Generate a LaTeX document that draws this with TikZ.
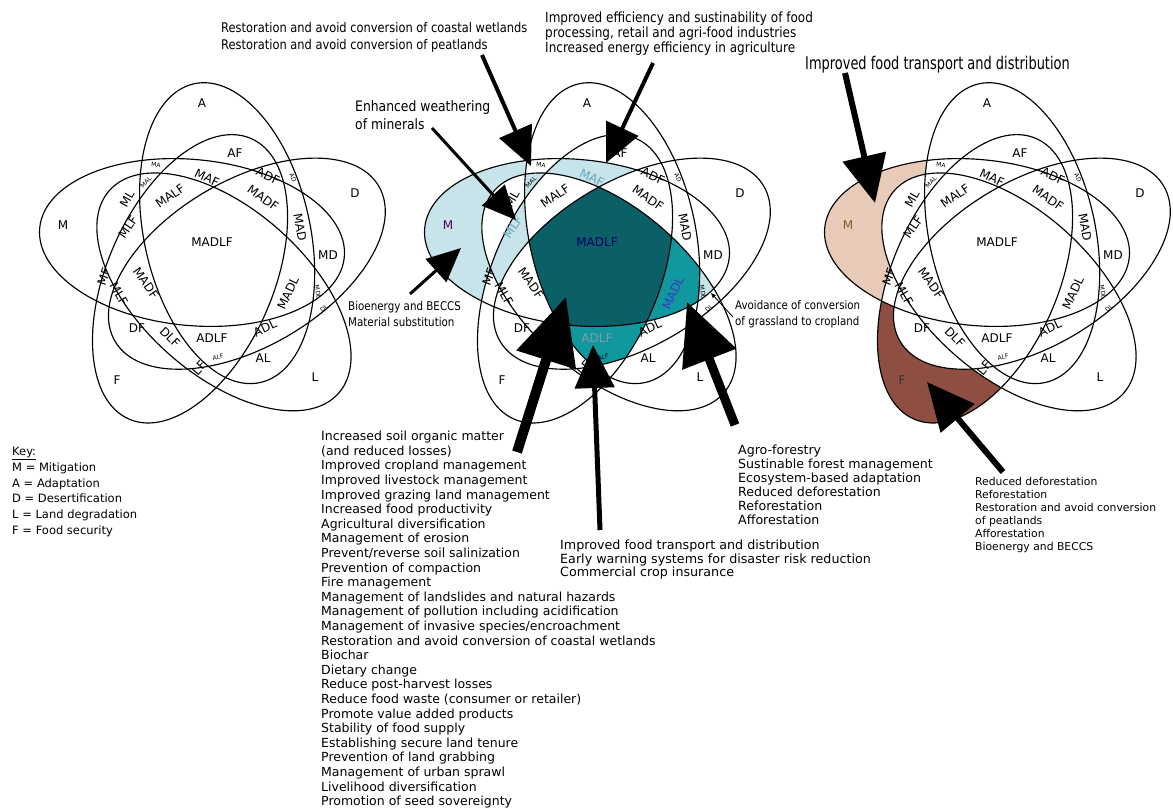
\documentclass[tikz,border=0pt]{standalone}
\usepackage{fontspec}
\setmainfont{DejaVu Sans}
\newfontfamily\narrowfont[FakeStretch=0.86]{DejaVu Sans}
\newfontfamily\condfont[FakeStretch=0.74]{DejaVu Sans}
\usetikzlibrary{arrows.meta}

\definecolor{mitblue}{HTML}{C6E4EA}
\definecolor{tealmid}{HTML}{11989E}
\definecolor{tealdark}{HTML}{0B5F66}
\definecolor{peach}{HTML}{E8CAB8}
\definecolor{brownf}{HTML}{8E4F42}

% one ellipse of the five-set diagram, the others are rotated copies
\newcommand\vell{(0,0) ellipse (153 and 83)}
\newcommand\venin[1]{\clip[#1]\vell;}
\newcommand\venout[1]{\clip[#1]\vell (-900,-900) rectangle (900,900);}
\newcommand\venfill[1]{\fill[#1] (-400,-400) rectangle (400,400);}

\tikzset{
  setM/.style={shift={(-24,-19.5)},rotate=-5.5},
  setA/.style={rotate=-72,shift={(-24,-19.5)},rotate=-5.5},
  setF/.style={rotate=72,shift={(-24,-19.5)},rotate=-5.5},
  setL/.style={rotate=144,shift={(-24,-19.5)},rotate=-5.5},
  setD/.style={rotate=-144,shift={(-24,-19.5)},rotate=-5.5},
  venline/.style={line width=1.15pt},
  lab/.style={inner sep=0pt,font=\fontsize{12}{12}\selectfont},
  tiny/.style={inner sep=0pt,font=\fontsize{6}{6}\selectfont},
  labM/.style={lab}, labF/.style={lab}, labC/.style={lab},
  labMLF/.style={lab}, labMAF/.style={lab},
  labMADL/.style={lab}, labADLF/.style={lab},
  txt/.style={inner sep=0pt,anchor=north west,align=left},
  bigarrow/.style={line width=#1,-{Triangle[length=4.6*#1+20pt,width=4.2*#1+18pt]}},
}

% labels of the 31 regions, #1 is a prefix for the node names
\newcommand\venlabels[1]{
  \node[lab] (#1A) at (-14,-159) {A};
  \node[lab] (#1AF) at (19,-109) {AF};
  \node[lab] (#1D) at (139,-69) {D};
  \node[labM] (#1M) at (-153,-37) {M};
  \node[labC] (#1MADLF) at (-4,-20) {MADLF};
  \node[lab] (#1MD) at (112,-7) {MD};
  \node[tiny,rotate=-5] (#1MA) at (-60,-97) {MA};
  \node[tiny,rotate=45] (#1MAL) at (-70,-80) {MAL};
  \node[lab,rotate=60] (#1ML) at (-89,-63) {ML};
  \node[lab,rotate=35] (#1MALF) at (-46,-66) {MALF};
  \node[labMAF,rotate=-25] (#1MAF) at (-9,-84) {MAF};
  \node[lab,rotate=-25] (#1ADF) at (52,-86) {ADF};
  \node[tiny,rotate=-65] (#1AD) at (77,-84) {AD};
  \node[lab,rotate=-35] (#1MADFa) at (47,-64) {MADF};
  \node[lab,rotate=-80] (#1MAD) at (84,-35) {MAD};
  \node[labMLF,rotate=55] (#1MLFa) at (-88,-35) {MLF};
  \node[lab,rotate=70] (#1MF) at (-112,15) {MF};
  \node[lab,rotate=-60] (#1MLFb) at (-97,32) {MLF};
  \node[lab,rotate=-55] (#1MADFb) at (-70,21) {MADF};
  \node[labMADL,rotate=65] (#1MADL) at (72,31) {MADL};
  \node[tiny,rotate=-80] (#1MDL) at (102,30) {MDL};
  \node[tiny,rotate=40] (#1DL) at (108,46) {DL};
  \node[lab] (#1DF) at (-79,66) {DF};
  \node[lab,rotate=-45] (#1DLF) at (-46,75) {DLF};
  \node[labADLF] (#1ADLF) at (-4,76) {ADLF};
  \node[lab,rotate=25] (#1ADL) at (49,66) {ADL};
  \node[tiny,rotate=10] (#1ALF) at (2,95) {ALF};
  \node[lab] (#1AL) at (47,96) {AL};
  \node[lab,rotate=50] (#1LF) at (-17,106) {LF};
  \node[labF] (#1F) at (-99,118) {F};
  \node[lab] (#1L) at (99,115) {L};
}
\newcommand\venlines{
  \draw[venline,setM]\vell; \draw[venline,setA]\vell;
  \draw[venline,setD]\vell; \draw[venline,setL]\vell;
  \draw[venline,setF]\vell;
}

\begin{document}
\begin{tikzpicture}[x=1pt,y=-1pt]
\useasboundingbox (0,0) rectangle (1173,807);

%% Left diagram
\begin{scope}[shift={(216,262)}]
  \venlines
  \venlabels{l}
\end{scope}

%% Middle diagram
\begin{scope}[shift={(601,262)},
    labM/.style={lab,text=violet!70!black},
    labC/.style={lab,text=blue!40!black},
    labMLF/.style={lab,text=cyan!45!gray},
    labMAF/.style={lab,text=cyan!45!gray},
    labMADL/.style={lab,text=blue!55!gray},
    labADLF/.style={lab,text=cyan!25!gray}]
  \begin{scope}[even odd rule]\venin{setM}\venout{setA}\venout{setD}\venout{setL}\venout{setF}\venfill{mitblue}\end{scope}
  \begin{scope}[even odd rule]\venin{setM}\venin{setA}\venin{setL}\venout{setD}\venout{setF}\venfill{mitblue}\end{scope}
  \begin{scope}[even odd rule]\venin{setM}\venin{setL}\venin{setF}\venout{setA}\venout{setD}\venfill{mitblue}\end{scope}
  \begin{scope}[even odd rule]\venin{setM}\venin{setA}\venin{setF}\venout{setD}\venout{setL}\venfill{mitblue}\end{scope}
  \begin{scope}[even odd rule]\venin{setM}\venin{setD}\venin{setL}\venout{setA}\venout{setF}\venfill{mitblue}\end{scope}
  \begin{scope}[even odd rule]\venin{setM}\venin{setA}\venin{setD}\venin{setL}\venout{setF}\venfill{tealmid}\end{scope}
  \begin{scope}[even odd rule]\venin{setA}\venin{setD}\venin{setL}\venin{setF}\venout{setM}\venfill{tealmid}\end{scope}
  \begin{scope}\venin{setM}\venin{setA}\venin{setD}\venin{setL}\venin{setF}\venfill{tealdark}\end{scope}
  \venlines
  \venlabels{m}
\end{scope}

%% Right diagram
\begin{scope}[shift={(1001,262)},
    labM/.style={lab,text=brown!70!black},
    labF/.style={lab,text=black!80}]
  \begin{scope}[even odd rule]\venin{setM}\venout{setA}\venout{setD}\venout{setL}\venout{setF}\venfill{peach}\end{scope}
  \begin{scope}[even odd rule]\venin{setF}\venout{setA}\venout{setD}\venout{setL}\venout{setM}\venfill{brownf}\end{scope}
  \venlines
  \venlabels{r}
\end{scope}

% Texts
\node[txt,font=\narrowfont\fontsize{13.3}{17}\selectfont] (wetl) at (221,22.5)
  {Restoration and avoid conversion of coastal wetlands\\Restoration and avoid conversion of peatlands};
\node[txt,font=\narrowfont\fontsize{14}{15}\selectfont] (effi) at (545,11.3)
  {Improved efficiency and sustinability of food\\processing, retail and agri-food industries\\Increased energy efficiency in agriculture};
\node[txt,font=\condfont\fontsize{17.5}{17.5}\selectfont] (transp) at (805,55.8)
  {Improved food transport and distribution};
\node[txt,font=\narrowfont\fontsize{14.4}{18}\selectfont] (weath) at (355,100)
  {Enhanced weathering\\of minerals};
\node[txt,font=\narrowfont\fontsize{12}{16}\selectfont] (bioe) at (348,301)
  {Bioenergy and BECCS\\Material substitution};
\node[txt,font=\narrowfont\fontsize{11.9}{16}\selectfont] (avoid) at (735,300)
  {Avoidance of conversion\\of grassland to cropland};
\node[txt,font=\fontsize{11.5}{15.8}\selectfont] (key) at (12,447)
  {\underline{Key:}\\M = Mitigation\\A = Adaptation\\D = Desertification\\L = Land degradation\\F = Food security};
\node[txt,font=\fontsize{12.5}{14.6}\selectfont] (soil) at (321,430.9)
  {Increased soil organic matter\\(and reduced losses)\\Improved cropland management\\Improved livestock management\\
   Improved grazing land management\\Increased food productivity\\Agricultural diversification\\Management of erosion\\
   Prevent/reverse soil salinization\\Prevention of compaction\\Fire management\\Management of landslides and natural hazards\\
   Management of pollution including acidification\\Management of invasive species/encroachment\\
   Restoration and avoid conversion of coastal wetlands\\Biochar\\Dietary change\\Reduce post-harvest losses\\
   Reduce food waste (consumer or retailer)\\Promote value added products\\Stability of food supply\\
   Establishing secure land tenure\\Prevention of land grabbing\\Management of urban sprawl\\Livelihood diversification\\
   Promotion of seed sovereignty};
\node[txt,font=\fontsize{12.7}{13.5}\selectfont] (early) at (560,539.8)
  {Improved food transport and distribution\\Early warning systems for disaster risk reduction\\Commercial crop insurance};
\node[txt,font=\fontsize{12.6}{14}\selectfont] (agro) at (738,444.8)
  {Agro-forestry\\Sustinable forest management\\Ecosystem-based adaptation\\Reduced deforestation\\Reforestation\\Afforestation};
\node[txt,font=\fontsize{10.8}{13}\selectfont] (refor) at (975,476.6)
  {Reduced deforestation\\Reforestation\\Restoration and avoid conversion\\of peatlands\\Afforestation\\Bioenergy and BECCS};

% Arrows
\coordinate (s1) at (482,55);  \coordinate (e1) at (531,166);
\coordinate (s2) at (653,63);  \coordinate (e2) at (606,163);
\coordinate (s3) at (432,128); \coordinate (e3) at (516,220);
\coordinate (s4) at (410,294); \coordinate (e4) at (461,248);
\coordinate (s5) at (517,452); \coordinate (e5) at (566,297);
\coordinate (s6) at (600,530); \coordinate (e6) at (593,345);
\coordinate (s7) at (735,425); \coordinate (e7) at (687,302);
\coordinate (s8) at (845,73);  \coordinate (e8) at (875,203);
\coordinate (s9) at (1003,472); \coordinate (e9) at (927,382);
\coordinate (s10) at (733,317); \coordinate (e10) at (711,293);
\draw[bigarrow=4pt] (s1) -- (e1);
\draw[bigarrow=4pt] (s2) -- (e2);
\draw[bigarrow=3pt] (s3) -- (e3);
\draw[bigarrow=3pt] (s4) -- (e4);
\draw[bigarrow=10pt] (s5) -- (e5);
\draw[bigarrow=5pt] (s6) -- (e6);
\draw[bigarrow=9pt] (s7) -- (e7);
\draw[bigarrow=6pt] (s8) -- (e8);
\draw[bigarrow=6pt] (s9) -- (e9);
\draw[line width=0.8pt,-{Triangle[length=5pt,width=4pt]}] (s10) -- (e10);
\end{tikzpicture}
\end{document}
